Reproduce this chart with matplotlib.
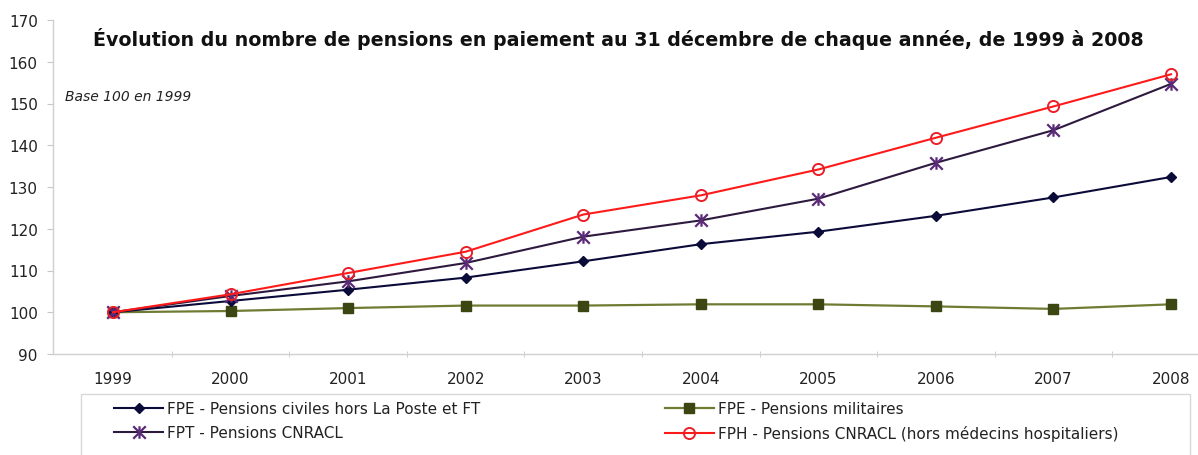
import matplotlib
matplotlib.use("Agg")
import matplotlib.pyplot as plt
from matplotlib.path import Path
from matplotlib.patches import Rectangle

# Data (base 100 in 1999)
years = [1999, 2000, 2001, 2002, 2003, 2004, 2005, 2006, 2007, 2008]
fpe_civiles = [100, 102.7, 105.4, 108.3, 112.2, 116.3, 119.3, 123.1, 127.5, 132.4]
fpe_militaires = [100, 100.3, 101.0, 101.6, 101.6, 101.9, 101.9, 101.4, 100.8, 101.9]
fpt_cnracl = [100, 103.9, 107.4, 111.8, 118.1, 122.0, 127.2, 135.8, 143.6, 154.7]
fph_cnracl = [100, 104.3, 109.4, 114.5, 123.4, 128.0, 134.2, 141.8, 149.3, 157.0]

labels = ['FPE - Pensions civiles hors La Poste et FT',
          'FPT - Pensions CNRACL',
          'FPE - Pensions militaires',
          'FPH - Pensions CNRACL (hors médecins hospitaliers)']

plt.rcParams['font.family'] = ['DejaVu Sans']

W, H = 1198, 456
fig = plt.figure(figsize=(W / 100, H / 100), dpi=100)

# axes placed in pixels (right side runs past the picture, as in the original)
left, right, top, bottom = 53, 1231, 21, 355
ax = fig.add_axes([left / W, 1 - bottom / H, (right - left) / W, (bottom - top) / H])

# Excel-style star marker: X plus vertical bar
star = Path([(0, -1), (0, 1), (-1, -1), (1, 1), (-1, 1), (1, -1)],
            [Path.MOVETO, Path.LINETO, Path.MOVETO, Path.LINETO, Path.MOVETO, Path.LINETO])

l1, = ax.plot(years, fpe_civiles, color='#0b0b3a', lw=1.5, marker='D', ms=5.5,
              mfc='#0b0b3a', mec='#0b0b3a', zorder=3)
l3, = ax.plot(years, fpe_militaires, color='#6f7a32', lw=1.6, marker='s', ms=7,
              mfc='#3c4612', mec='#3c4612', zorder=2)
l2, = ax.plot(years, fpt_cnracl, color='#2e1a3e', lw=1.5, marker=star, ms=9,
              mec='#5a2a78', mew=1.6, zorder=4)
l4, = ax.plot(years, fph_cnracl, color='#ff1a1a', lw=1.5, marker='o', ms=8,
              mfc='none', mec='#e8202a', mew=1.4, zorder=5)

ax.set_xlim(1998.49, 2008.51)
ax.set_ylim(90, 170)
ax.set_yticks(range(90, 171, 10))
ax.set_xticks(years)
ax.set_xticks([y + 0.5 for y in years[:-1]], minor=True)

for s in ['top', 'right']:
    ax.spines[s].set_visible(False)
for s in ['left', 'bottom']:
    ax.spines[s].set_color('#d0d0d0')
    ax.spines[s].set_linewidth(1.0)

ax.tick_params(axis='y', length=4, color='#c8c8c8', pad=7, labelsize=11, labelcolor='#222222')
ax.tick_params(axis='x', which='major', length=0, pad=12, labelsize=11, labelcolor='#222222')
ax.tick_params(axis='x', which='minor', length=4, color='#c8c8c8', direction='inout')

fig.text(618 / W, 1 - 39 / H,
         'Évolution du nombre de pensions en paiement au 31 décembre de chaque année, de 1999 à 2008',
         ha='center', va='center', fontsize=13.7, fontweight='bold', color='#111111')
fig.text(65 / W, 1 - 97 / H, 'Base 100 en 1999', ha='left', va='center',
         fontsize=10, style='italic', color='#222222')

# legend frame (bottom is cut off in the original)
fig.patches.append(Rectangle((81 / W, -0.1), (1190 - 81) / W, (H - 395) / H + 0.1,
                             transform=fig.transFigure, fill=False,
                             edgecolor='#d8d8d8', lw=1.0))

leg = fig.legend([l1, l2, l3, l4], labels, ncol=2, frameon=False,
                 loc='upper left', bbox_to_anchor=(108 / W, 1 - 396 / H),
                 fontsize=11, handlelength=3.2, handletextpad=0.25,
                 columnspacing=12.1, labelspacing=0.6, borderaxespad=0)
for t in leg.get_texts():
    t.set_color('#222222')

fig.savefig('out.png', dpi=100)
